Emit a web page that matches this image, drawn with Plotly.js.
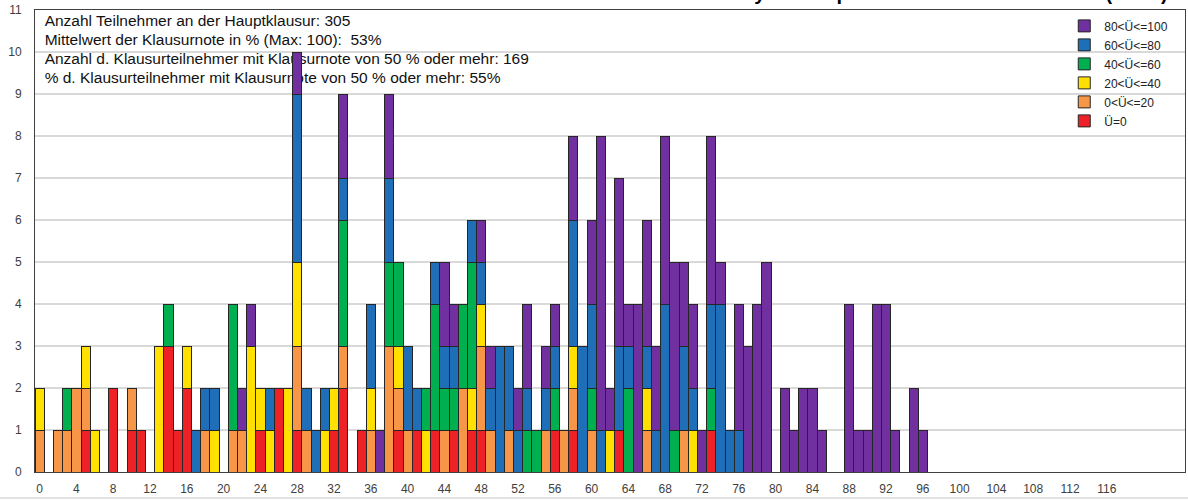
<!DOCTYPE html>
<html>
<head>
<meta charset="utf-8">
<script src="https://cdn.plot.ly/plotly-3.0.1.min.js"></script>
<style>html,body{margin:0;padding:0;background:#fff;}#chart{width:1188px;height:501px;}</style>
</head>
<body>
<div id="chart"></div>
<script>
// Score bins (x categories) 0..96
const scores = [];
for (let i = 0; i <= 96; i++) scores.push(i);

const tickValues = [0,4,8,12,16,20,24,28,32,36,40,44,48,52,56,60,64,68,72,76,80,84,88,92,96,100,104,108,112,116];
const yTicks = [0,1,2,3,4,5,6,7,8,9,10,11];

const seriesNames = ["Ü=0","0<Ü<=20","20<Ü<=40","40<Ü<=60","60<Ü<=80","80<Ü<=100"];
const seriesColors = ["#EE2226","#F79646","#FFE000","#00B050","#1F6FB8","#7030A0"];

const uNull = [
  0,0,0,0,0,1,0,0,2,0,
  1,1,0,0,3,1,2,0,0,0,
  0,0,0,0,1,0,2,0,1,0,
  0,0,1,2,0,1,0,0,0,1,
  0,1,0,1,0,1,0,1,1,0,
  0,0,0,0,0,0,1,0,1,0,
  0,0,0,1,0,0,0,0,0,0,
  0,0,0,1,0,0,0,0,0,0,
  0,0,0,0,0,0,0,0,0,0,
  0,0,0,0,0,0,0];
const u0_20 = [
  1,0,1,1,2,1,0,0,0,0,
  1,0,0,0,0,0,0,0,1,0,
  0,1,1,0,0,0,0,0,2,1,
  0,0,0,1,0,0,1,0,3,1,
  1,0,0,0,1,0,2,0,2,1,
  0,1,0,0,0,1,0,1,1,0,
  1,0,0,0,0,0,1,0,0,0,
  1,0,0,0,0,0,0,0,0,0,
  0,0,0,0,0,0,0,0,0,0,
  0,0,0,0,0,0,0];
const u20_40 = [
  1,0,0,0,0,1,1,0,0,0,
  0,0,0,3,0,0,1,0,0,1,
  0,0,0,3,1,1,0,2,2,0,
  0,1,1,0,0,0,1,0,0,1,
  0,0,1,0,0,0,0,1,1,0,
  0,0,0,0,0,0,0,0,1,0,
  0,0,1,0,0,0,1,0,0,0,
  0,1,0,0,0,0,0,0,0,0,
  0,0,0,0,0,0,0,0,0,0,
  0,0,0,0,0,0,0];
const u40_60 = [
  0,0,0,1,0,0,0,0,0,0,
  0,0,0,0,1,0,0,0,0,0,
  0,3,0,0,0,0,0,0,0,0,
  0,0,0,3,0,0,0,0,2,2,
  0,0,1,3,1,1,2,3,0,0,
  0,0,0,1,1,0,1,0,0,0,
  1,0,0,0,2,0,0,0,0,1,
  0,0,0,1,0,0,0,0,0,0,
  0,0,0,0,0,0,0,0,0,0,
  0,0,0,0,0,0,0];
const u60_80 = [
  0,0,0,0,0,0,0,0,0,0,
  0,0,0,0,0,0,0,1,1,1,
  0,0,0,0,0,1,0,0,4,1,
  1,1,0,1,0,0,2,0,2,0,
  2,1,0,1,1,1,0,1,1,1,
  3,2,1,1,0,1,1,0,3,3,
  2,1,0,2,1,0,1,1,4,0,
  2,1,0,2,4,1,1,0,0,0,
  0,0,0,0,0,0,0,0,0,0,
  0,0,0,0,0,0,0];
const u80_100 = [
  0,0,0,0,0,0,0,0,0,0,
  0,0,0,0,0,0,0,0,0,0,
  0,0,1,1,0,0,0,0,1,0,
  0,0,0,2,0,0,0,1,2,0,
  0,0,0,0,2,1,0,0,1,1,
  0,0,1,2,0,1,1,0,2,0,
  2,7,1,4,1,4,3,2,4,4,
  2,2,1,4,1,0,3,3,4,5,
  0,2,1,2,2,1,0,0,4,1,
  1,4,4,1,0,2,1];

const infoLines = [
  "Anzahl Teilnehmer an der Hauptklausur: 305",
  "Mittelwert der Klausurnote in % (Max: 100):  53%",
  "Anzahl d. Klausurteilnehmer mit Klausurnote von 50 % oder mehr: 169",
  "% d. Klausurteilnehmer mit Klausurnote von 50 % oder mehr: 55%"
];
const titleText = "Klausurstatistik Physik Hauptklausur Sommersemester (SS19)";

const seriesValues = [uNull, u0_20, u20_40, u40_60, u60_80, u80_100];
const FONT = "Liberation Sans, Arial, sans-serif";

const traces = [];
// info text on the base subplot (drawn beneath the bars)
traces.push({
  type: "scatter", mode: "text", xaxis: "x", yaxis: "y",
  x: infoLines.map(() => 0.55),
  y: infoLines.map((_, i) => 10.71 - i * 0.452),
  text: infoLines, textposition: "middle right",
  textfont: {family: FONT, size: 15.5, color: "#111"},
  showlegend: false, hoverinfo: "skip", cliponaxis: false
});
seriesValues.forEach((vals, i) => {
  traces.push({
    type: "bar", xaxis: "x2", yaxis: "y2",
    name: seriesNames[i],
    x: scores,
    y: vals.map(v => v === 0 ? null : v),
    marker: {color: seriesColors[i], line: {color: "#262626", width: 1}}
  });
});

const xr = [-0.5, 124.5];
const layout = {
  width: 1188, height: 501,
  margin: {l: 35, r: 3, t: 10, b: 29, pad: 0},
  paper_bgcolor: "#fff", plot_bgcolor: "#fff",
  barmode: "stack", bargap: 0,
  font: {family: FONT, size: 12, color: "#404040"},
  xaxis: {
    range: xr, tickmode: "array", tickvals: tickValues, ticktext: tickValues.map(String),
    showgrid: false, zeroline: false, showline: true, mirror: true,
    linecolor: "#404040", linewidth: 1, ticks: "", ticklabelstandoff: 6,
    tickfont: {family: FONT, size: 12, color: "#404040"}
  },
  yaxis: {
    range: [0, 11], tickmode: "array", tickvals: yTicks, ticktext: yTicks.map(String),
    showgrid: true, gridcolor: "#d9d9d9", gridwidth: 1.5, zeroline: false,
    showline: true, mirror: true, linecolor: "#404040", linewidth: 1,
    ticks: "", ticklabelstandoff: 10,
    tickfont: {family: FONT, size: 12, color: "#404040"}
  },
  xaxis2: {overlaying: "x", anchor: "y2", range: xr, visible: false},
  yaxis2: {overlaying: "y", anchor: "x2", range: [0, 11], visible: false},
  legend: {
    x: 0.895, xanchor: "left", y: 0.997, yanchor: "top",
    traceorder: "reversed", bgcolor: "rgba(0,0,0,0)",
    font: {family: FONT, size: 12, color: "#222"}, itemwidth: 30
  },
  annotations: [{
    xref: "paper", yref: "paper", x: 0.987, y: 1.008, xanchor: "right", yanchor: "bottom",
    text: "<b>" + titleText + "</b>", showarrow: false,
    font: {family: FONT, size: 20, color: "#000"}
  }],
  shapes: [{
    type: "line", xref: "paper", yref: "paper",
    x0: -0.031, x1: 1.003, y0: -0.0565, y1: -0.0565,
    line: {color: "#d9d9d9", width: 1.5}
  }]
};

Plotly.newPlot("chart", traces, layout, {displayModeBar: false, staticPlot: true});
</script>
</body>
</html>
